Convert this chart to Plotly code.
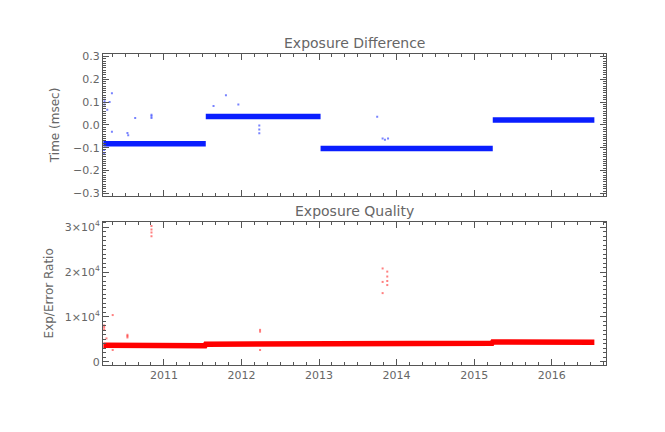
import plotly.graph_objects as go

# ---------------- data (decimal years) ----------------
# Exposure Difference: constant offset segments
diff_seg_start = [2010.22, 2011.54, 2013.02, 2015.24]
diff_seg_end = [2011.54, 2013.02, 2015.24, 2016.55]
diff_seg_value = [-0.083, 0.037, -0.104, 0.021]

# Exposure Difference: scattered outliers
diff_out_x = [2010.235, 2010.235, 2010.235, 2010.23, 2010.23, 2010.33, 2010.27, 2010.30,
              2010.33, 2010.53, 2010.54, 2010.63, 2010.84, 2010.84, 2010.84, 2011.64,
              2011.80, 2011.96, 2012.23, 2012.23, 2012.23, 2013.75, 2013.82, 2013.85,
              2013.89]
diff_out_y = [0.10, 0.11, 0.09, -0.11, -0.125, 0.139, 0.066, 0.10,
              -0.03, -0.035, -0.045, 0.03, 0.03, 0.038, 0.045, 0.083,
              0.13, 0.09, -0.003, -0.02, -0.037, 0.036, -0.06, -0.065,
              -0.06]

# Exposure Quality: main band
qual_x = [2010.22, 2011.53, 2011.54, 2013.02, 2013.03, 2015.23, 2015.24, 2016.55]
qual_y = [3650, 3580, 3890, 3950, 4110, 4120, 4400, 4350]

# Exposure Quality: scattered outliers
qual_out_x = [2010.23, 2010.23, 2010.23, 2010.34, 2010.26, 2010.34, 2010.53, 2010.53,
              2010.53, 2010.84, 2010.84, 2010.84, 2010.84, 2012.24, 2012.24, 2012.24,
              2013.82, 2013.82, 2013.82, 2013.88, 2013.88, 2013.88, 2013.88]
qual_out_y = [7200, 7700, 8100, 10400, 5200, 2600, 5400, 5700,
              6000, 28000, 28800, 29500, 30300, 6700, 7100, 2600,
              15300, 17800, 20800, 17100, 18000, 19000, 20100]

year_ticks = [2011, 2012, 2013, 2014, 2015, 2016]
year_labels = ["2011", "2012", "2013", "2014", "2015", "2016"]
diff_ticks = [-0.3, -0.2, -0.1, 0.0, 0.1, 0.2, 0.3]
diff_labels = ["\u22120.3", "\u22120.2", "\u22120.1", "0.0", "0.1", "0.2", "0.3"]
qual_ticks = [0, 10000, 20000, 30000]
qual_labels = ["0", "1\u00d710<sup>4</sup>", "2\u00d710<sup>4</sup>", "3\u00d710<sup>4</sup>"]

BLUE = "rgb(10,30,255)"
RED = "rgb(255,0,0)"
AX = "#555555"
TXT = "#666666"
FONT = "DejaVu Sans"

fig = go.Figure()

# difference band segments (None gaps between segments)
seg_x, seg_y = [], []
for s, e, v in zip(diff_seg_start, diff_seg_end, diff_seg_value):
    seg_x += [s, e, None]
    seg_y += [v, v, None]
fig.add_trace(go.Scatter(x=seg_x, y=seg_y, mode="lines", line=dict(color=BLUE, width=5.5),
                         xaxis="x", yaxis="y", showlegend=False, hoverinfo="skip"))
fig.add_trace(go.Scatter(x=diff_out_x, y=diff_out_y, mode="markers",
                         marker=dict(color=BLUE, size=2, symbol="square", opacity=0.55,
                                     line=dict(width=0)),
                         xaxis="x", yaxis="y", showlegend=False, hoverinfo="skip"))

fig.add_trace(go.Scatter(x=qual_x, y=qual_y, mode="lines", line=dict(color=RED, width=5.5),
                         xaxis="x2", yaxis="y2", showlegend=False, hoverinfo="skip"))
fig.add_trace(go.Scatter(x=qual_out_x, y=qual_out_y, mode="markers",
                         marker=dict(color=RED, size=2, symbol="square", opacity=0.5,
                                     line=dict(width=0)),
                         xaxis="x2", yaxis="y2", showlegend=False, hoverinfo="skip"))

xcommon = dict(range=[2010.215, 2016.7], showline=True, linecolor=AX, linewidth=1,
               mirror="ticks", ticks="inside", ticklen=6, tickcolor=AX, tickwidth=1,
               tickmode="array", tickvals=year_ticks, ticktext=year_labels,
               showgrid=False, zeroline=False, automargin=False,
               minor=dict(ticks="inside", ticklen=3, tickcolor=AX, dtick=1/6, tick0=2010,
                          showgrid=False),
               tickfont=dict(family=FONT, size=11, color=TXT))

fig.update_layout(
    width=665, height=432,
    margin=dict(l=103, r=59, t=54, b=67),
    paper_bgcolor="white", plot_bgcolor="white",
    xaxis=dict(**xcommon, domain=[0, 1], anchor="y", showticklabels=False),
    xaxis2=dict(**xcommon, domain=[0, 1], anchor="y2"),
    yaxis=dict(domain=[0.544, 1.0], range=[-0.311, 0.311], showline=True, linecolor=AX,
               mirror="ticks", ticks="inside", ticklen=6, tickcolor=AX, automargin=False,
               tickmode="array", tickvals=diff_ticks, ticktext=diff_labels,
               showgrid=False, zeroline=False,
               minor=dict(ticks="inside", ticklen=3, tickcolor=AX, dtick=0.01, tick0=0,
                          showgrid=False),
               tickfont=dict(family=FONT, size=11, color=TXT),
               title=dict(text="Time (msec)", font=dict(family=FONT, size=12, color=TXT),
                          standoff=10)),
    yaxis2=dict(domain=[0.0, 0.461], range=[-740, 31250], showline=True, linecolor=AX,
                mirror="ticks", ticks="inside", ticklen=6, tickcolor=AX, automargin=False,
                tickmode="array", tickvals=qual_ticks, ticktext=qual_labels,
                showgrid=False, zeroline=False,
                minor=dict(ticks="inside", ticklen=3, tickcolor=AX, dtick=1000, tick0=0,
                           showgrid=False),
                tickfont=dict(family=FONT, size=11, color=TXT),
                title=dict(text="Exp/Error Ratio", font=dict(family=FONT, size=12, color=TXT),
                           standoff=8)),
    annotations=[
        dict(text="Exposure Difference", x=0.5, y=1.0, xref="paper", yref="paper",
             yanchor="bottom", yshift=1, showarrow=False,
             font=dict(family=FONT, size=14, color=TXT)),
        dict(text="Exposure Quality", x=0.5, y=0.461, xref="paper", yref="paper",
             yanchor="bottom", yshift=1, showarrow=False,
             font=dict(family=FONT, size=14, color=TXT)),
    ],
)

fig.write_html("out.html", config={"displayModeBar": False},
               post_script="document.body.style.margin='0';document.body.style.padding='0';")
